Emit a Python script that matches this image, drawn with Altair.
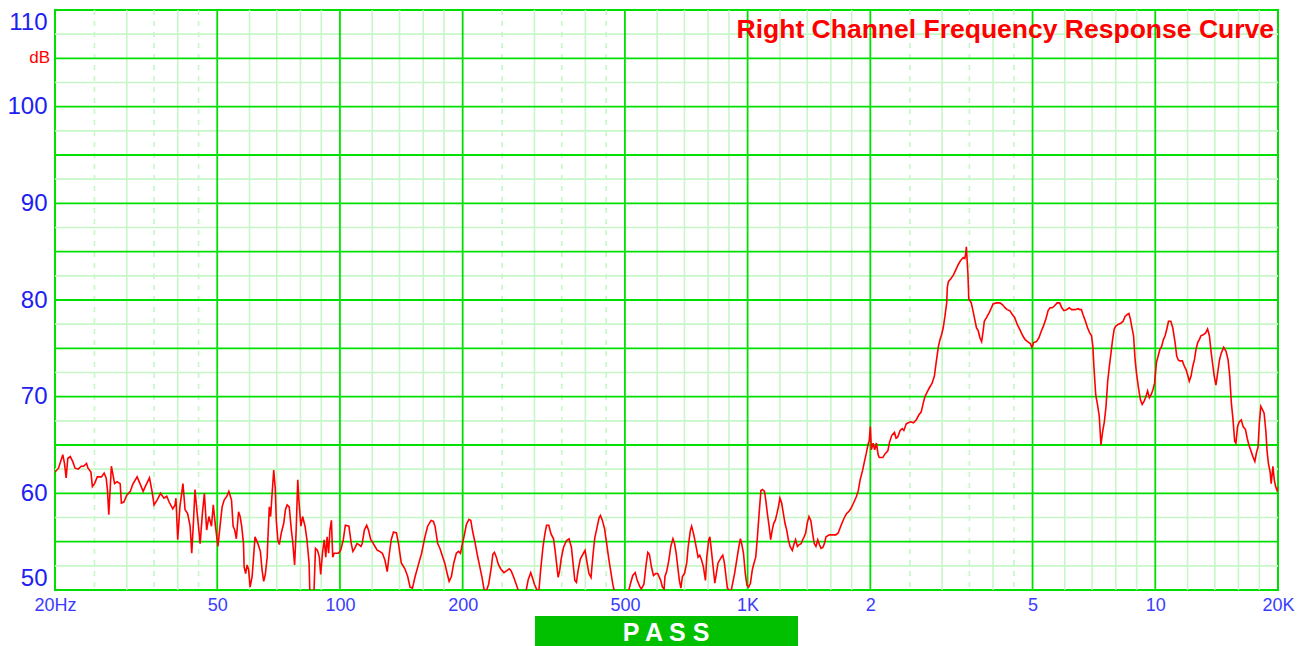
import altair as alt
import pandas as pd

# ---- curve values (frequency in Hz, level in dB) ----
f_a = [20, 20.4, 20.9, 21.1, 21.3, 21.5, 21.8, 22.1, 22.4, 22.8,
       23.2, 23.5, 23.9, 24.1, 24.5, 24.7, 25.0, 25.4, 26.0, 26.4,
       26.7, 26.9, 27.1, 27.5, 27.7, 28.0, 28.4, 28.9, 29.1, 29.5,
       30.0, 30.6, 31.0, 31.8, 32.4, 32.9, 33.3, 34.1, 34.6, 35.0,
       35.6, 36.3, 37.0, 37.6, 38.1, 38.9, 39.4, 39.6, 40.0, 40.5,
       41.2, 41.7, 42.3, 42.9, 43.3, 43.7, 44.1, 44.4, 44.9, 45.4,
       46.0, 46.5, 47.1, 47.7, 48.4, 48.9, 49.5, 50.2, 50.8, 51.4,
       52.0, 52.8, 53.4, 54.2, 54.7, 55.2, 55.7, 56.4, 56.9, 57.4,
       58.0, 58.2, 58.7, 59.2, 59.7, 60.2, 60.9]
db_a = [62.2, 62.6, 64.0, 63.1, 61.6, 63.6, 63.8, 63.3, 62.6, 62.5,
        62.8, 62.8, 63.1, 62.6, 62.2, 60.7, 61.0, 61.7, 61.7, 62.1,
        61.6, 60.3, 57.8, 62.8, 62.1, 61.0, 61.2, 61.0, 59.0, 59.1,
        59.8, 60.2, 60.9, 61.7, 60.9, 60.2, 60.7, 61.6, 60.2, 58.8,
        59.3, 60.0, 59.5, 59.7, 59.1, 58.4, 58.8, 59.5, 55.2, 58.6,
        61.0, 58.3, 57.9, 56.6, 53.8, 56.9, 60.4, 59.0, 56.9, 54.8,
        58.0, 60.0, 56.2, 57.6, 56.6, 58.8, 56.6, 54.5, 56.6, 58.6,
        59.3, 59.7, 60.2, 59.3, 56.6, 56.2, 55.3, 58.1, 57.6, 56.6,
        54.8, 52.4, 51.7, 52.6, 52.1, 50.3, 51.4]

f_b = [61.9, 62.9, 63.8, 64.4, 65.0, 65.6, 66.3, 66.6, 67.1, 67.6, 68.1, 68.8, 69.4, 69.8,
       70.4, 71.0, 71.8, 72.8, 73.5, 74.2, 75.1, 76.0, 76.5, 77.4, 78.1, 78.8, 79.3,
       80.2, 81.0, 82.1, 83.0, 84.0, 84.4, 85.6, 86.3, 87.1, 88.1, 89.0, 89.7,
       90.6, 91.5, 92.3, 93.0, 93.8, 94.5, 95.3, 96.0, 96.8, 97.5, 99.1,
       100.4, 101.9, 103.1, 105.2, 106.6, 107.6, 108.7, 110.1, 111.3, 112.6, 113.4, 114.8, 116.3, 117.5, 119.0,
       120.0, 121.9, 123.5, 125.2, 127.1, 128.9, 130.6, 132.2, 133.6, 135.3, 137.6, 139.3,
       141.4, 144.3, 146.6, 148.6, 150.6, 152.9, 155.7, 158.6,
       161.6, 164.1, 167.3, 169.5, 171.1, 173.7, 175.9, 178.1,
       180.7, 183.5, 185.3, 187.7, 190.2, 193.0, 195.4, 197.5]
db_b = [55.5, 54.8, 54.0, 52.1, 50.9, 51.6, 53.4, 55.5, 58.6, 57.6, 59.7, 62.4, 60.5, 57.2,
        55.2, 54.7, 55.9, 56.9, 58.3, 58.8, 58.6, 56.2, 55.2, 52.6, 56.2, 61.4, 59.3,
        56.6, 57.6, 56.6, 55.2, 52.8, 49.5, 49.5, 49.5, 54.3, 54.1, 53.4, 51.6,
        53.8, 55.2, 53.4, 55.5, 53.8, 56.2, 57.2, 53.4, 53.8, 53.8, 53.8,
        54.1, 55.2, 56.7, 56.6, 54.8, 54.0, 54.3, 54.8, 54.7, 54.5, 54.8, 56.2, 56.7, 56.2, 55.2,
        55.0, 54.5, 54.1, 54.0, 53.8, 53.1, 51.9, 53.8, 55.2, 56.0, 55.9, 54.7,
        52.8, 52.2, 51.4, 50.3, 50.2, 51.4, 52.6, 53.8,
        55.5, 56.6, 57.2, 57.1, 56.6, 54.8, 54.3, 53.6,
        52.8, 51.6, 50.9, 51.4, 52.8, 53.8, 54.0, 53.8]

f_c = [200, 201.7, 204.3, 207.3, 209.4, 211.5, 214.5, 217.1, 220.1, 223.1,
       225.6, 228.6, 231.6, 235.0, 237.2, 239.3, 241.9, 244.4, 247.8, 252.6,
       256.7, 260.3, 262.9, 267.0, 270.6, 274.2, 280.9, 286.1, 289.7, 293.8,
       296.4, 300, 303.5, 307.6, 310.6, 314.7, 318.2, 321.2, 325.3, 329.4,
       334.1, 337.1, 340.0, 343.0, 345.9, 348.8, 353.5, 359.2, 364.8, 369.7,
       373.2, 376.8, 380.3, 383.8, 388.7, 394.4, 399.3, 403.2, 408.1, 412.9,
       417.7, 421.8, 427.4, 432.3, 435.5, 440.3, 446.0, 450, 456.6, 461.3,
       467.0, 470.8, 478.3, 490, 507.2, 515.5, 522.7, 529.9, 536.1, 543.3,
       548.5, 556.7, 563.9, 569.1, 574.2, 581.4, 587.6, 594.8, 602, 612,
       618, 624]
db_c = [54.9, 55.6, 56.8, 57.3, 57.2, 56.1, 54.9, 53.7, 52.5, 51.3,
        50.1, 49.9, 50.6, 52.3, 53.7, 53.9, 53.4, 52.7, 52.2, 51.8,
        52.0, 52.2, 52.0, 51.3, 50.6, 49.9, 49.6, 49.9, 51.1, 51.8,
        51.3, 50.6, 50.1, 49.9, 52.0, 54.4, 55.8, 56.7, 56.7, 55.8,
        55.3, 54.1, 52.7, 51.3, 52.0, 53.2, 54.4, 55.1, 55.3, 54.4,
        52.7, 51.0, 50.8, 52.0, 53.2, 53.7, 54.1, 53.0, 51.7, 51.3,
        53.7, 55.4, 56.5, 57.5, 57.7, 57.2, 56.3, 55.1, 53.2, 52.0,
        50.6, 49.9, 49.2, 48.0, 49.4, 50.6, 51.5, 51.8, 51.0, 50.4,
        50.1, 50.6, 52.7, 53.9, 53.7, 52.3, 51.5, 51.7, 51.7, 51.0,
        50.3, 50.1]

f_d = [627, 633, 641, 648, 656, 662, 668, 674, 680, 686, 692, 700,
       709, 715, 724, 729, 738, 749, 756, 763, 771, 779, 788, 794,
       803, 808, 815, 823, 831, 838, 846, 854, 862, 869, 877, 885, 892,
       910, 929, 938, 952, 960, 967, 977, 987, 996,
       1006, 1016, 1027, 1037, 1047, 1057, 1067, 1078, 1088, 1100, 1108, 1118, 1129, 1139, 1149, 1159, 1169, 1180, 1190, 1200,
       1212, 1224, 1235, 1247, 1259, 1271, 1287, 1301, 1311, 1325, 1339, 1353, 1365, 1376, 1388, 1400,
       1414, 1429, 1443, 1457, 1471, 1486, 1500, 1514, 1529, 1543, 1557, 1586,
       1615, 1646, 1668, 1692, 1723, 1748, 1769, 1791,
       1819, 1850, 1869, 1888, 1915, 1935, 1954, 1973, 1988, 2000, 2012, 2031, 2050, 2070, 2090]
db_d = [51.4, 51.9, 53.1, 54.5, 55.3, 54.8, 53.8, 52.4, 51.0, 50.2, 51.4, 51.7,
        52.8, 54.5, 56.2, 56.6, 55.7, 54.3, 53.4, 53.6, 53.1, 52.4, 51.0, 53.4,
        55.2, 55.5, 54.1, 52.4, 50.7, 51.7, 52.8, 53.1, 53.4, 53.6, 52.8, 51.4, 50.2,
        49.8, 51.7, 52.8, 54.5, 55.3, 54.8, 53.8, 51.7, 50.5,
        50.3, 50.7, 52.1, 52.8, 53.4, 55.5, 57.9, 60.3, 60.4, 60.2, 59.3, 57.9, 56.6, 55.2, 56.2, 56.9, 57.2, 57.9, 58.6, 59.5,
        59.0, 57.9, 56.9, 56.2, 55.2, 54.5, 54.1, 54.8, 55.2, 54.5, 54.7, 54.8, 55.2, 55.5, 55.9, 56.9,
        57.6, 57.2, 55.9, 54.8, 54.5, 55.2, 54.7, 54.3, 54.4, 54.8, 55.5, 55.7,
        55.7, 55.7, 55.9, 56.6, 57.4, 57.9, 58.1, 58.4,
        59.0, 59.7, 60.3, 61.4, 62.4, 63.3, 64.1, 65.0, 65.5, 66.9, 64.5, 65.2, 64.5, 65.2, 64.0]

f_e = [2104, 2146, 2175, 2208, 2229, 2258, 2292, 2313, 2333, 2367,
       2396, 2417, 2450, 2479, 2510, 2552, 2593, 2629, 2665, 2696,
       2722, 2758, 2799, 2835, 2871, 2902, 2938, 2964, 2990, 3018,
       3048, 3078, 3090, 3108, 3151, 3199, 3247, 3289, 3331, 3380,
       3410, 3428, 3440, 3452, 3470, 3488, 3536, 3571, 3607, 3643,
       3679, 3714, 3750, 3786, 3807, 3857, 3914, 3964, 4000, 4079,
       4159, 4222, 4278, 4333, 4397, 4460, 4519, 4583, 4657, 4731,
       4796, 4861, 4935, 4981, 5031, 5112, 5184, 5255, 5316, 5388,
       5459, 5520, 5592, 5663, 5745, 5827, 5898, 5969, 6059, 6153,
       6236, 6354, 6472]
db_e = [63.7, 63.7, 64.1, 64.4, 65.3, 66.0, 66.3, 65.7, 65.8, 66.5,
        66.7, 66.5, 67.2, 67.3, 67.4, 67.3, 67.6, 68.1, 68.4, 69.3,
        70.0, 70.5, 71.0, 71.4, 72.1, 73.6, 75.2, 75.9, 76.4, 77.1,
        78.3, 79.7, 81.3, 81.9, 82.2, 82.6, 83.2, 83.7, 84.1, 84.4,
        84.3, 84.8, 85.5, 84.4, 82.8, 80.1, 79.7, 78.9, 78.0, 77.1,
        76.8, 76.1, 75.7, 76.9, 77.8, 78.2, 78.7, 79.2, 79.6, 79.7,
        79.7, 79.5, 79.2, 79.0, 78.9, 78.5, 78.2, 77.5, 76.9, 76.3,
        75.9, 75.7, 75.5, 75.1, 75.6, 75.7, 76.1, 76.8, 77.3, 78.0,
        78.9, 79.2, 79.2, 79.4, 79.7, 79.7, 79.2, 78.9, 79.0, 79.2,
        79.0, 79.0, 79.1]

f_f = [6529, 6588, 6647, 6741, 6824, 6906, 6976, 7029, 7071, 7143,
       7214, 7286, 7357, 7429, 7500, 7571, 7643, 7714, 7786, 7857,
       7929, 8000, 8123, 8231, 8338, 8431, 8538, 8615, 8692, 8769,
       8846, 8923, 9000, 9096, 9192, 9288, 9385, 9481, 9577, 9673,
       9769, 9865, 9962, 10061, 10163, 10265, 10367, 10469, 10571, 10673,
       10776, 10918, 11041, 11184, 11286, 11388, 11490, 11653, 11796, 11898,
       12000, 12118, 12235, 12353, 12471, 12588, 12706, 12824, 12941, 13106,
       13294, 13435, 13576, 13718, 13835, 13953, 14086, 14229, 14371, 14514,
       14714, 14914, 15086, 15229, 15371, 15514, 15657, 15771, 15914, 16065,
       16258, 16419, 16645, 16806, 16968, 17129, 17355, 17548, 17710, 17871,
       18000, 18151, 18302, 18491, 18679, 18792, 18943, 19132, 19245, 19434,
       19585, 19736, 19887, 20000]
db_f = [79.0, 79.0, 78.5, 77.8, 77.1, 76.6, 76.3, 75.2, 73.1, 70.2,
        69.2, 68.0, 65.0, 66.4, 67.4, 69.0, 71.6, 73.1, 74.5, 75.9,
        77.0, 77.3, 77.5, 77.6, 77.8, 78.3, 78.5, 78.6, 78.0, 77.1,
        76.3, 73.8, 72.3, 70.9, 69.7, 69.2, 69.5, 70.0, 70.6, 69.9,
        70.2, 70.7, 71.4, 73.5, 74.2, 74.9, 75.2, 75.9, 76.3, 77.0,
        77.8, 77.8, 77.1, 75.6, 74.2, 73.8, 73.7, 73.7, 73.1, 72.8,
        72.3, 71.6, 72.1, 73.1, 73.8, 74.9, 75.6, 75.9, 76.3, 76.4,
        76.6, 77.0, 76.3, 74.5, 73.3, 72.1, 71.2, 72.5, 73.8, 74.5,
        75.1, 74.7, 73.8, 72.1, 69.3, 67.6, 65.4, 65.2, 66.9, 67.4,
        67.6, 66.9, 66.6, 65.7, 65.0, 64.5, 63.8, 63.3, 64.2, 64.8,
        67.3, 69.0, 68.7, 68.3, 66.4, 64.5, 63.1, 62.2, 61.0, 62.8,
        61.4, 60.7, 60.3, 60.6]

# ---- grid and tick definitions ----
major_x = [50, 100, 200, 500, 1000, 2000, 5000, 10000]
minor_x = [30, 40, 60, 70, 80, 90, 120, 140, 160, 180, 300, 400, 600, 700, 800, 900,
           1200, 1400, 1600, 1800, 3000, 4000, 6000, 7000, 8000, 9000,
           12000, 14000, 16000, 18000]
dash_x = [25, 35, 45, 250, 350, 450, 2500, 3500, 4500]
major_y = [55, 60, 65, 70, 75, 80, 85, 90, 95, 100, 105]
minor_y = [52.5, 57.5, 62.5, 67.5, 72.5, 77.5, 82.5, 87.5, 92.5, 97.5, 102.5, 107.5]
x_ticks = [20, 50, 100, 200, 500, 1000, 2000, 5000, 10000, 20000]
x_tick_labels = ["20Hz", "50", "100", "200", "500", "1K", "2", "5", "10", "20K"]
y_ticks = [50, 60, 70, 80, 90, 100, 110]
title_text = "Right Channel Frequency Response Curve"
unit_text = "dB"
verdict_text = "P A S S"

BRIGHT = "#00e000"
LIGHT = "#c6f7c6"
FONT = "Liberation Sans"
W, H = 1223, 580

curve = pd.DataFrame({"f": f_a + f_b + f_c + f_d + f_e + f_f,
                      "db": db_a + db_b + db_c + db_d + db_e + db_f})

xs = alt.Scale(type="log", domain=[20, 20000], nice=False)
ys = alt.Scale(domain=[50, 110], nice=False, zero=False)

label_expr = "[" + ",".join("'%s'" % t for t in x_tick_labels) + "][indexof([" + \
    ",".join(str(v) for v in x_ticks) + "], datum.value)]"

x_axis = alt.Axis(values=x_ticks, labelExpr=label_expr, ticks=False, domain=False, grid=False,
                  labelFontSize=18, labelColor="#3a3aff", labelFont=FONT, labelPadding=6,
                  labelFlush=False, labelOverlap=False, title=None)
y_axis = alt.Axis(values=y_ticks, ticks=False, domain=False, grid=False, labelFlush=True,
                  labelOverlap=False, labelFontSize=24, labelColor="#2020f0", labelFont=FONT,
                  labelPadding=8, title=None)

X = lambda field: alt.X(field, scale=xs, axis=x_axis)
Y = lambda field: alt.Y(field, scale=ys, axis=y_axis)

vminor = alt.Chart(pd.DataFrame({"f": minor_x})).mark_rule(color=LIGHT, strokeWidth=1.6).encode(x=X("f:Q"))
vdash = alt.Chart(pd.DataFrame({"f": dash_x})).mark_rule(
    color=LIGHT, strokeWidth=1.6, strokeDash=[5, 6]).encode(x=X("f:Q"))
hminor = alt.Chart(pd.DataFrame({"v": minor_y})).mark_rule(color=LIGHT, strokeWidth=1.6).encode(y=Y("v:Q"))
hmajor = alt.Chart(pd.DataFrame({"v": major_y})).mark_rule(color=BRIGHT, strokeWidth=1.8).encode(y=Y("v:Q"))
vmajor = alt.Chart(pd.DataFrame({"f": major_x})).mark_rule(color=BRIGHT, strokeWidth=1.8).encode(x=X("f:Q"))

line = alt.Chart(curve).mark_line(color="#ff0000", strokeWidth=1.6, clip=True).encode(
    x=X("f:Q"), y=Y("db:Q"), order="f:Q")

title = alt.Chart(pd.DataFrame({"t": [title_text]})).mark_text(
    align="right", baseline="alphabetic", fontSize=26.5, fontWeight="bold",
    color="#ff0000", font=FONT).encode(x=alt.value(W - 4), y=alt.value(28), text="t:N")

unit = alt.Chart(pd.DataFrame({"v": [105], "t": [unit_text]})).mark_text(
    align="right", baseline="middle", fontSize=17, color="#ff0000", font=FONT).encode(
    x=alt.value(-5), y=Y("v:Q"), text="t:N")

box = alt.Chart(pd.DataFrame({"t": [verdict_text]})).mark_rect(color="#00c000").encode(
    x=alt.value(480), x2=alt.value(743), y=alt.value(606), y2=alt.value(640))
verdict = alt.Chart(pd.DataFrame({"t": [verdict_text]})).mark_text(
    align="center", baseline="alphabetic", fontSize=25, fontWeight="bold",
    color="#ffffff", font=FONT).encode(x=alt.value(611), y=alt.value(631), text="t:N")

chart = alt.layer(vminor, vdash, hminor, hmajor, vmajor, line, title, unit, box, verdict).properties(
    width=W, height=H,
    autosize=alt.AutoSizeParams(type="none"),
    padding={"left": 47, "top": 2, "right": 21, "bottom": 56},
    background="#ffffff",
).configure_view(stroke=BRIGHT, strokeWidth=2)

chart.save("out.html", embed_options={"renderer": "svg", "actions": False})
